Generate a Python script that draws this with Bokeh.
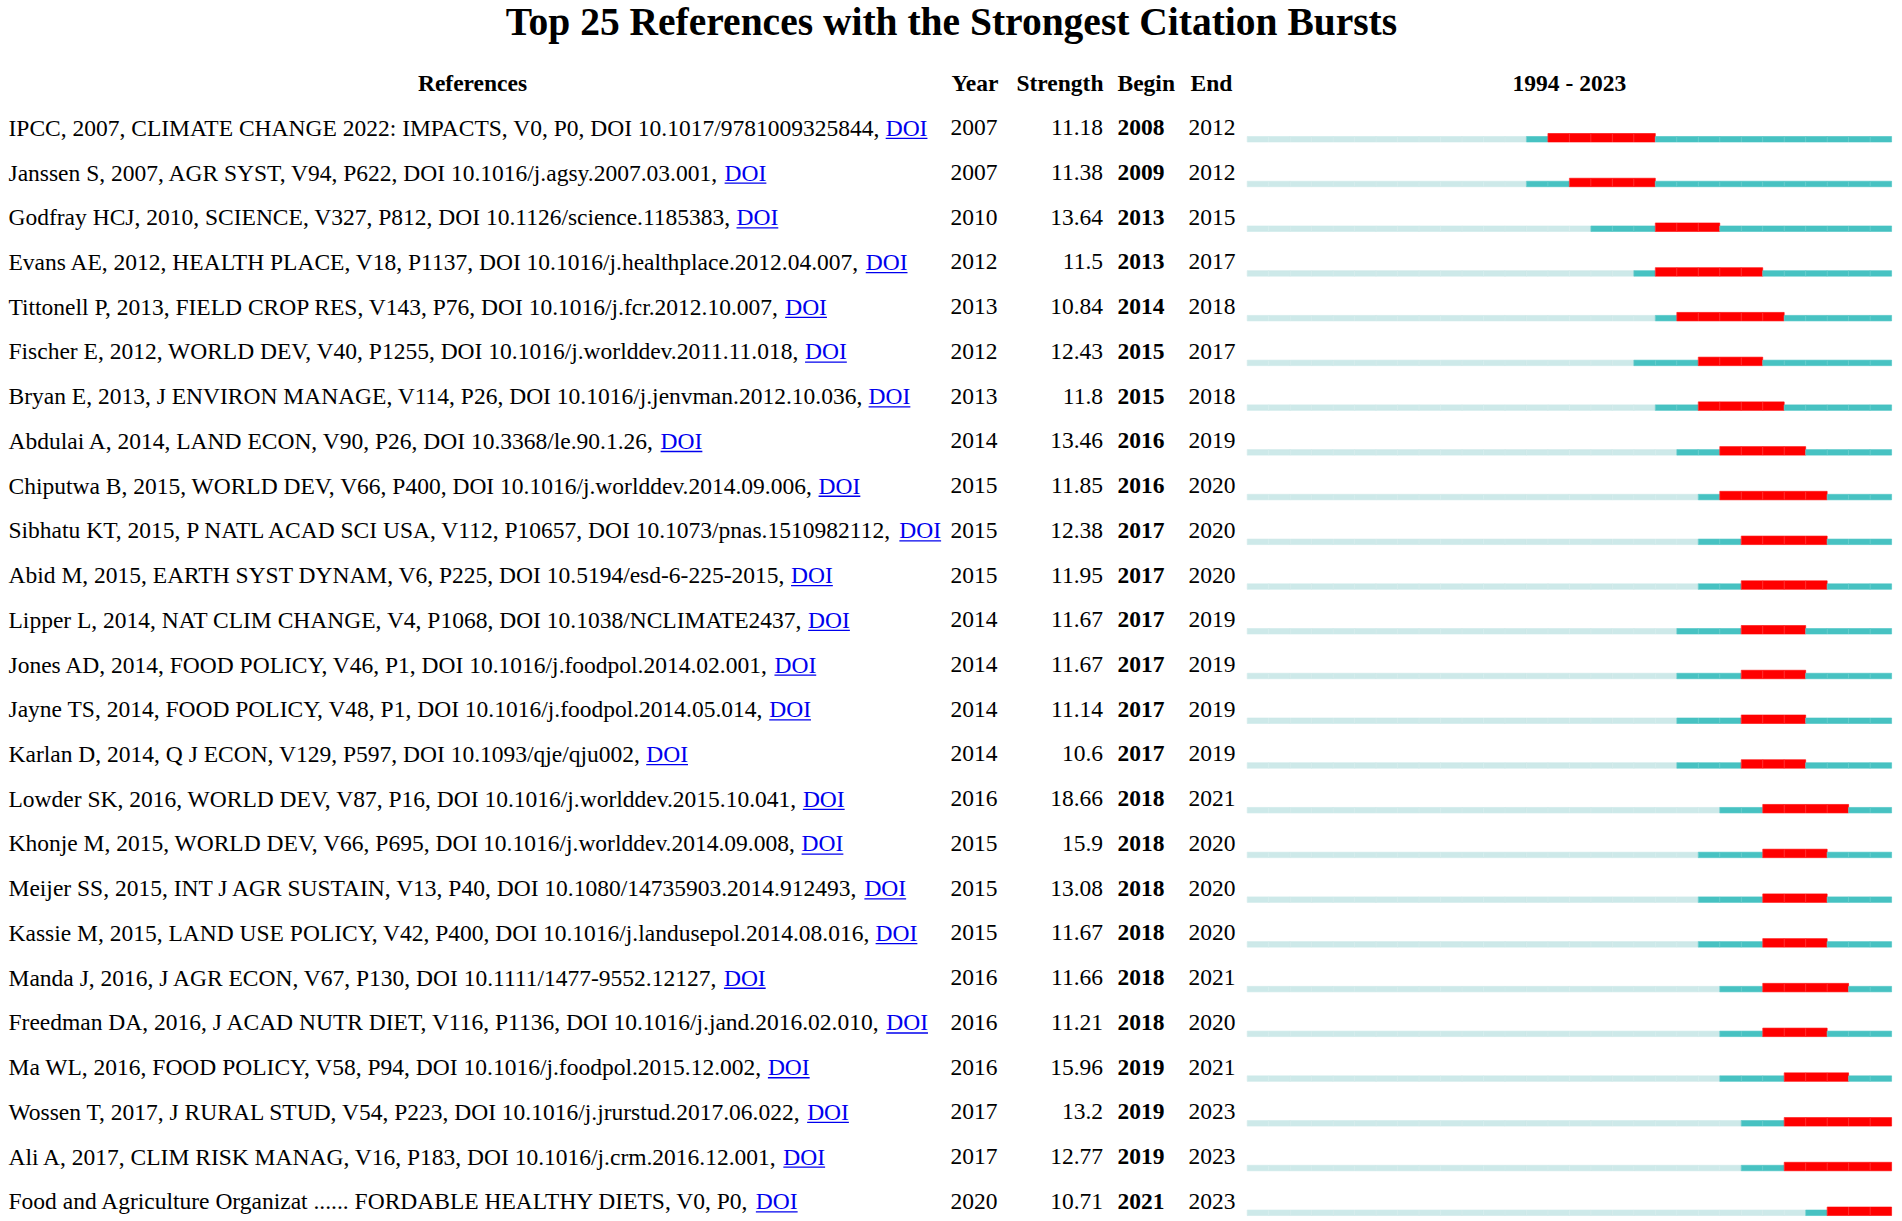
from bokeh.plotting import figure
from bokeh.models import Range1d, ColumnDataSource, CustomJS
from bokeh.events import DocumentReady
from bokeh.io import curdoc
from bokeh.core.properties import value
from bokeh.embed import file_html
from bokeh.resources import INLINE

# ---------------- data ----------------
references = [
    "IPCC, 2007, CLIMATE CHANGE 2022: IMPACTS, V0, P0, DOI 10.1017/9781009325844, ",
    "Janssen S, 2007, AGR SYST, V94, P622, DOI 10.1016/j.agsy.2007.03.001, ",
    "Godfray HCJ, 2010, SCIENCE, V327, P812, DOI 10.1126/science.1185383, ",
    "Evans AE, 2012, HEALTH PLACE, V18, P1137, DOI 10.1016/j.healthplace.2012.04.007, ",
    "Tittonell P, 2013, FIELD CROP RES, V143, P76, DOI 10.1016/j.fcr.2012.10.007, ",
    "Fischer E, 2012, WORLD DEV, V40, P1255, DOI 10.1016/j.worlddev.2011.11.018, ",
    "Bryan E, 2013, J ENVIRON MANAGE, V114, P26, DOI 10.1016/j.jenvman.2012.10.036, ",
    "Abdulai A, 2014, LAND ECON, V90, P26, DOI 10.3368/le.90.1.26, ",
    "Chiputwa B, 2015, WORLD DEV, V66, P400, DOI 10.1016/j.worlddev.2014.09.006, ",
    "Sibhatu KT, 2015, P NATL ACAD SCI USA, V112, P10657, DOI 10.1073/pnas.1510982112, ",
    "Abid M, 2015, EARTH SYST DYNAM, V6, P225, DOI 10.5194/esd-6-225-2015, ",
    "Lipper L, 2014, NAT CLIM CHANGE, V4, P1068, DOI 10.1038/NCLIMATE2437, ",
    "Jones AD, 2014, FOOD POLICY, V46, P1, DOI 10.1016/j.foodpol.2014.02.001, ",
    "Jayne TS, 2014, FOOD POLICY, V48, P1, DOI 10.1016/j.foodpol.2014.05.014, ",
    "Karlan D, 2014, Q J ECON, V129, P597, DOI 10.1093/qje/qju002, ",
    "Lowder SK, 2016, WORLD DEV, V87, P16, DOI 10.1016/j.worlddev.2015.10.041, ",
    "Khonje M, 2015, WORLD DEV, V66, P695, DOI 10.1016/j.worlddev.2014.09.008, ",
    "Meijer SS, 2015, INT J AGR SUSTAIN, V13, P40, DOI 10.1080/14735903.2014.912493, ",
    "Kassie M, 2015, LAND USE POLICY, V42, P400, DOI 10.1016/j.landusepol.2014.08.016, ",
    "Manda J, 2016, J AGR ECON, V67, P130, DOI 10.1111/1477-9552.12127, ",
    "Freedman DA, 2016, J ACAD NUTR DIET, V116, P1136, DOI 10.1016/j.jand.2016.02.010, ",
    "Ma WL, 2016, FOOD POLICY, V58, P94, DOI 10.1016/j.foodpol.2015.12.002, ",
    "Wossen T, 2017, J RURAL STUD, V54, P223, DOI 10.1016/j.jrurstud.2017.06.022, ",
    "Ali A, 2017, CLIM RISK MANAG, V16, P183, DOI 10.1016/j.crm.2016.12.001, ",
    "Food and Agriculture Organizat ...... FORDABLE HEALTHY DIETS, V0, P0, ",
]
pub_year = [2007, 2007, 2010, 2012, 2013, 2012, 2013, 2014, 2015, 2015, 2015, 2014, 2014,
            2014, 2014, 2016, 2015, 2015, 2015, 2016, 2016, 2016, 2017, 2017, 2020]
strength = [11.18, 11.38, 13.64, 11.5, 10.84, 12.43, 11.8, 13.46, 11.85, 12.38, 11.95, 11.67,
            11.67, 11.14, 10.6, 18.66, 15.9, 13.08, 11.67, 11.66, 11.21, 15.96, 13.2, 12.77, 10.71]
burst_begin = [2008, 2009, 2013, 2013, 2014, 2015, 2015, 2016, 2016, 2017, 2017, 2017, 2017,
               2017, 2017, 2018, 2018, 2018, 2018, 2018, 2018, 2019, 2019, 2019, 2021]
burst_end = [2012, 2012, 2015, 2017, 2018, 2017, 2018, 2019, 2020, 2020, 2020, 2019, 2019,
             2019, 2019, 2021, 2020, 2020, 2020, 2021, 2020, 2021, 2023, 2023, 2023]
range_start, range_end = 1994, 2023
title = "Top 25 References with the Strongest Citation Bursts"
headers = ["References", "Year", "Strength", "Begin", "End"]

# ---------------- layout (page pixels; figure sits at page 0,0) ----------------
W, H = 1902, 1221
YEAR_PX = 21.48          # pixels per year in the burst strip
BAR_LEFT_PX = 1246.7     # strip's left edge
ROW_PX = 44.73           # row pitch
ROW0_BASE_PX = 135.5     # baseline of first row
FS = 23.5                # body font size px
TITLE_FS = 39.5
K = 0.35                 # renderer's offset between anchor and drawn baseline (em)
FONT = "Liberation Serif"
TEXT_LEFT = 8

x0 = range_start - BAR_LEFT_PX / YEAR_PX
x1 = x0 + W / YEAR_PX
y_top = -ROW0_BASE_PX / ROW_PX
y_bot = y_top + H / ROW_PX


def px_x(px):
    return x0 + px / YEAR_PX


def px_dy(px):
    return px / ROW_PX


def px_y(px):
    return y_top + px / ROW_PX


# fallback width estimate (Times metrics + main kerning pairs, 1/1000 em)
_W = {' ': 250, ',': 250, '.': 250, '/': 278, ':': 278, '-': 333, '(': 333, ')': 333}
for c in "0123456789":
    _W[c] = 500
_W.update(dict(zip("ABCDEFGHIJKLMNOPQRSTUVWXYZ",
                   [722, 667, 667, 722, 611, 556, 722, 722, 333, 389, 722, 611, 889, 722, 722,
                    556, 722, 667, 556, 611, 722, 722, 944, 722, 722, 611])))
_W.update(dict(zip("abcdefghijklmnopqrstuvwxyz",
                   [444, 500, 444, 500, 444, 333, 500, 500, 278, 278, 500, 278, 778, 500, 500,
                    500, 500, 333, 389, 278, 500, 500, 722, 500, 500, 444])))
_KERN = {"AT": -111, "AC": -40, "AG": -40, "PA": -92, "T,": -74, "Y,": -129, "V,": -129,
         "LT": -92, "RU": -40, "RT": -60, "RO": -40, "DY": -55, "y.": -65, "v.": -65,
         "r.": -55, "Ti": -35, "Wo": -80, "Fo": -80}


def text_w(s, fs=FS):
    w = sum(_W.get(c, 500) for c in s)
    w += sum(_KERN.get(s[k:k + 2], 0) for k in range(len(s) - 1))
    return w / 1000.0 * fs


p = figure(width=W, height=H, x_range=Range1d(x0, x1), y_range=Range1d(y_bot, y_top),
           output_backend="svg", toolbar_location=None, min_border=0,
           x_axis_location=None, y_axis_location=None)
p.grid.visible = False
p.outline_line_color = None
p.background_fill_color = "white"
p.border_fill_color = "white"

rows = list(range(len(references)))

# ---------------- burst strips (one cell per year) ----------------
LIGHT, TEAL, RED = "#CDE9E9", "#47C2C2", "#FF0000"
cl, cr, ct, cb, cc = [], [], [], [], []
for i in rows:
    for yr in range(range_start, range_end + 1):
        if burst_begin[i] <= yr <= burst_end[i]:
            col, top = RED, i - px_dy(2.5)
        elif yr >= pub_year[i]:
            col, top = TEAL, i + px_dy(0.5)
        else:
            col, top = LIGHT, i + px_dy(0.5)
        cl.append(yr)
        cr.append(yr + 1)
        ct.append(top)
        cb.append(i + px_dy(6))
        cc.append(col)
p.quad(left=cl, right=cr, top=ct, bottom=cb, fill_color=cc, line_color=cc, line_width=0.6)
p.segment(x0=cl, x1=cl, y0=ct, y1=cb, line_color="white", line_alpha=0.18, line_width=0.8)

# ---------------- text columns ----------------
common = dict(text_font=value(FONT), text_font_size=f"{FS}px", text_baseline="alphabetic",
              text_color="black")
ty = [i - px_dy(K * FS) for i in rows]

src = ColumnDataSource(dict(
    y=ty,
    ref=[r.rstrip() for r in references],
    yr=[str(v) for v in pub_year],
    st=[str(v) for v in strength],
    bg=[str(v) for v in burst_begin],
    en=[str(v) for v in burst_end],
    doi_x=[px_x(TEXT_LEFT + text_w(r)) for r in references],
    doi_x2=[px_x(TEXT_LEFT + text_w(r) + text_w("DOI")) for r in references],
    ul_y=[i + px_dy(2.4) for i in rows],
))

p.text(x=px_x(TEXT_LEFT), y="y", text="ref", source=src, text_align="left", **common)
p.text(x="doi_x", y="y", text=value("DOI"), source=src, text_align="left",
       text_font=value(FONT), text_font_size=f"{FS}px", text_baseline="alphabetic",
       text_color="#0000EE")
p.segment(x0="doi_x", x1="doi_x2", y0="ul_y", y1="ul_y", source=src,
          line_color="#0000EE", line_width=1.3)
p.text(x=px_x(950), y="y", text="yr", source=src, text_align="left", **common)
p.text(x=px_x(1102.5), y="y", text="st", source=src, text_align="right", **common)
p.text(x=px_x(1117), y="y", text="bg", source=src, text_align="left",
       text_font_style="bold", **common)
p.text(x=px_x(1188), y="y", text="en", source=src, text_align="left", **common)

# ---------------- headers ----------------
hdr = dict(text_font=value(FONT), text_font_size=f"{FS}px", text_baseline="alphabetic",
           text_color="black", text_font_style="bold")
hy = px_y(90.7) - px_dy(K * FS)
p.text(x=[px_x(472)], y=[hy], text=[headers[0]], text_align="center", **hdr)
p.text(x=[px_x(951)], y=[hy], text=[headers[1]], text_align="left", **hdr)
p.text(x=[px_x(1103)], y=[hy], text=[headers[2]], text_align="right", **hdr)
p.text(x=[px_x(1117)], y=[hy], text=[headers[3]], text_align="left", **hdr)
p.text(x=[px_x(1190)], y=[hy], text=[headers[4]], text_align="left", **hdr)
p.text(x=[(range_start + range_end + 1) / 2], y=[hy], text=[f"{range_start} - {range_end}"],
       text_align="center", **hdr)

# ---------------- title ----------------
p.text(x=[px_x(951)], y=[px_y(35.5) - px_dy(K * TITLE_FS)], text=[title], text_align="center",
       text_font=value(FONT), text_font_size=f"{TITLE_FS}px", text_font_style="bold",
       text_baseline="alphabetic", text_color="black")

# place each "DOI" link right after its reference text using the browser's own metrics
place_doi = CustomJS(args=dict(src=src, refs=references, fs=FS, font=FONT, x0=x0,
                               ypx=YEAR_PX, left=TEXT_LEFT), code="""
try {
  const ctx = document.createElement('canvas').getContext('2d');
  ctx.font = fs + 'px "' + font + '"';
  const wd = ctx.measureText('DOI').width;
  const dx = [], dx2 = [];
  for (let i = 0; i < refs.length; i++) {
    const w = ctx.measureText(refs[i]).width;
    dx.push(x0 + (left + w) / ypx);
    dx2.push(x0 + (left + w + wd) / ypx);
  }
  let nd;
  if (src.data instanceof Map) {
    nd = new Map(src.data); nd.set('doi_x', dx); nd.set('doi_x2', dx2);
  } else {
    nd = Object.assign({}, src.data); nd.doi_x = dx; nd.doi_x2 = dx2;
  }
  src.data = nd;
} catch (e) { console.log(e); }
""")
doc = curdoc()
doc.add_root(p)
doc.js_on_event(DocumentReady, place_doi)

open("out.html", "w").write(file_html(p, INLINE))
